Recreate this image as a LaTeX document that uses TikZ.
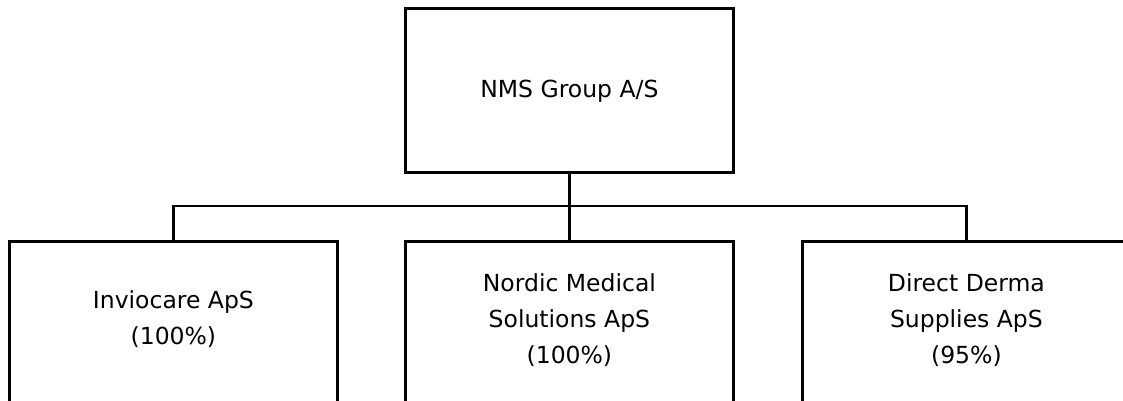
\documentclass[tikz,border=0pt]{standalone}
\usepackage{fontspec}
\setmainfont{DejaVu Sans}
\begin{document}
\begin{tikzpicture}[x=1pt,y=-1pt,
  orgbox/.style={draw=black, line width=2.8pt, fill=white, minimum width=328pt, inner sep=0pt, anchor=north west},
  orgtext/.style={align=center, font=\fontsize{23.5}{36}\selectfont, inner sep=0pt},
  link/.style={draw=black, line width=2.3pt, line join=miter}]
\useasboundingbox (0,0) rectangle (1123,401);
\clip (0,0) rectangle (1123,401);
\fill[white] (0,0) rectangle (1123,401);
% top box
\node[orgbox, minimum height=164pt] (top) at (404,7) {};
\node[orgtext] (toptext) at ([yshift=-1pt]top.center) {NMS Group A/S};
% bottom boxes
\node[orgbox, minimum height=220pt] (left) at (8,240) {};
\node[orgbox, minimum height=220pt] (mid) at (404,240) {};
\node[orgbox, minimum height=220pt] (right) at (801,240) {};
\node[orgtext, anchor=north] (lefttext) at ([yshift=-50pt]left.north) {Inviocare ApS\\(100\%)};
\node[orgtext, anchor=north] (midtext) at ([yshift=-33pt]mid.north) {Nordic Medical\\Solutions ApS\\(100\%)};
\node[orgtext, anchor=north] (righttext) at ([yshift=-33pt]right.north) {Direct Derma\\Supplies ApS\\(95\%)};
% connectors
\coordinate (bar) at (568,206);
\draw[link, line width=3pt] (top.south) -- (top.south |- bar);
\draw[link] (left.north) -- (left.north |- bar) -- (right.north |- bar) -- (right.north);
\draw[link] (mid.north |- bar) -- (mid.north);
\end{tikzpicture}
\end{document}
